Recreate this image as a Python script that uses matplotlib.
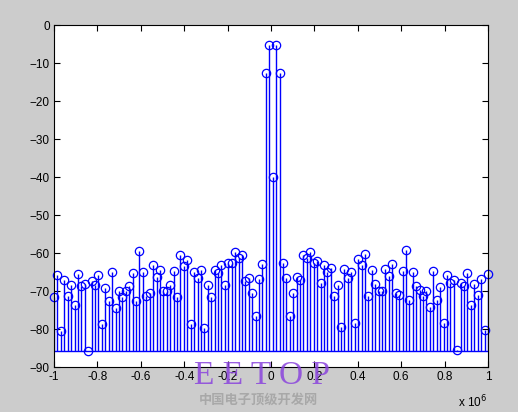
import numpy as np
import matplotlib
matplotlib.use("Agg")
import matplotlib.pyplot as plt
from matplotlib.ticker import FuncFormatter

# === data ===
n_points = 128
freq = np.linspace(-1e6, 1e6, n_points)   # Hz

left_side = [-71.5, -65.7, -80.5, -67.0, -71.2, -68.4, -73.8, -65.5, -68.8, -68.2,
             -85.7, -67.3, -68.4, -65.9, -78.7, -69.1, -72.6, -65.0, -74.5, -70.1,
             -71.5, -69.9, -68.8, -65.3, -72.6, -59.4, -65.0, -71.2, -70.6, -63.1,
             -66.2, -64.4, -70.1, -70.1, -68.4, -64.7, -71.5, -60.4, -63.3, -61.8,
             -78.7, -65.0, -66.6, -64.4, -79.8, -68.5, -71.5, -64.4, -65.3, -63.1,
             -68.4, -62.6, -62.6, -59.7, -61.3, -60.6, -67.3, -66.6, -70.6, -76.7,
             -66.8, -62.8]
center = [-12.6, -5.3, -40.1, -5.3, -12.6]
right_side = [-62.6, -66.6, -76.5, -70.4, -66.4, -67.1, -60.4, -61.2, -59.7, -62.5,
              -62.2, -68.0, -63.1, -65.1, -64.0, -71.2, -68.3, -79.6, -64.2, -66.6,
              -64.9, -78.4, -61.6, -63.1, -60.3, -71.2, -64.5, -68.2, -69.9, -69.9,
              -64.2, -66.0, -62.9, -70.4, -71.0, -64.8, -59.1, -72.4, -65.1, -68.6,
              -69.7, -71.2, -69.9, -74.3, -64.8, -72.4, -68.9, -78.4, -65.7, -68.0,
              -67.1, -85.4, -68.0, -68.6, -65.3, -73.6, -68.2, -71.0, -66.8, -80.3,
              -65.5]
power_db = np.array(left_side + center + right_side)

x_ticks = [-1e6, -0.8e6, -0.6e6, -0.4e6, -0.2e6, 0, 0.2e6, 0.4e6, 0.6e6, 0.8e6, 1e6]
y_ticks = [0, -10, -20, -30, -40, -50, -60, -70, -80, -90]

# === figure ===
plt.rcParams['font.family'] = ['Liberation Sans', 'DejaVu Sans']
fig = plt.figure(figsize=(5.18, 4.12), dpi=100, facecolor='#cccccc')
ax = fig.add_axes([54 / 518, 45 / 412, 434 / 518, 342 / 412])
ax.set_facecolor('white')

base = power_db.min()
markers, stems, baseline = ax.stem(freq, power_db, bottom=base,
                                   linefmt='b-', markerfmt='bo', basefmt='b-')
markers.set_markerfacecolor('none')
markers.set_markersize(6)
markers.set_markeredgewidth(0.9)
markers.set_clip_on(False)
stems.set_linewidth(1.0)
baseline.set_linewidth(1.0)

ax.set_xlim(-1e6, 1e6)
ax.set_ylim(-90, 0)
ax.set_xticks(x_ticks)
ax.set_yticks(y_ticks)
ax.xaxis.set_major_formatter(FuncFormatter(lambda v, p: f"{v / 1e6:g}"))
ax.tick_params(direction='in', length=4, width=0.8, labelsize=8.5,
               top=True, right=True, colors='black', pad=3)
for s in ax.spines.values():
    s.set_linewidth(0.8)
    s.set_color('black')

fig.text(458 / 518, 1 - 402 / 412, "x 10$^6$", fontsize=8.5, va='center', ha='left')

# watermark
fig.text(262 / 518, 1 - 376 / 412, "E E T O P", fontsize=24, family='Liberation Serif',
         color='#8a44dd', alpha=0.85, ha='center', va='center')
fig.text(258 / 518, 1 - 400 / 412, "中国电子顶级开发网", fontsize=9.5,
         family=['Noto Sans CJK SC', 'DejaVu Sans'], weight='bold',
         color='#a8a8a8', ha='center', va='center')

fig.savefig("out.png", dpi=100, facecolor=fig.get_facecolor())
